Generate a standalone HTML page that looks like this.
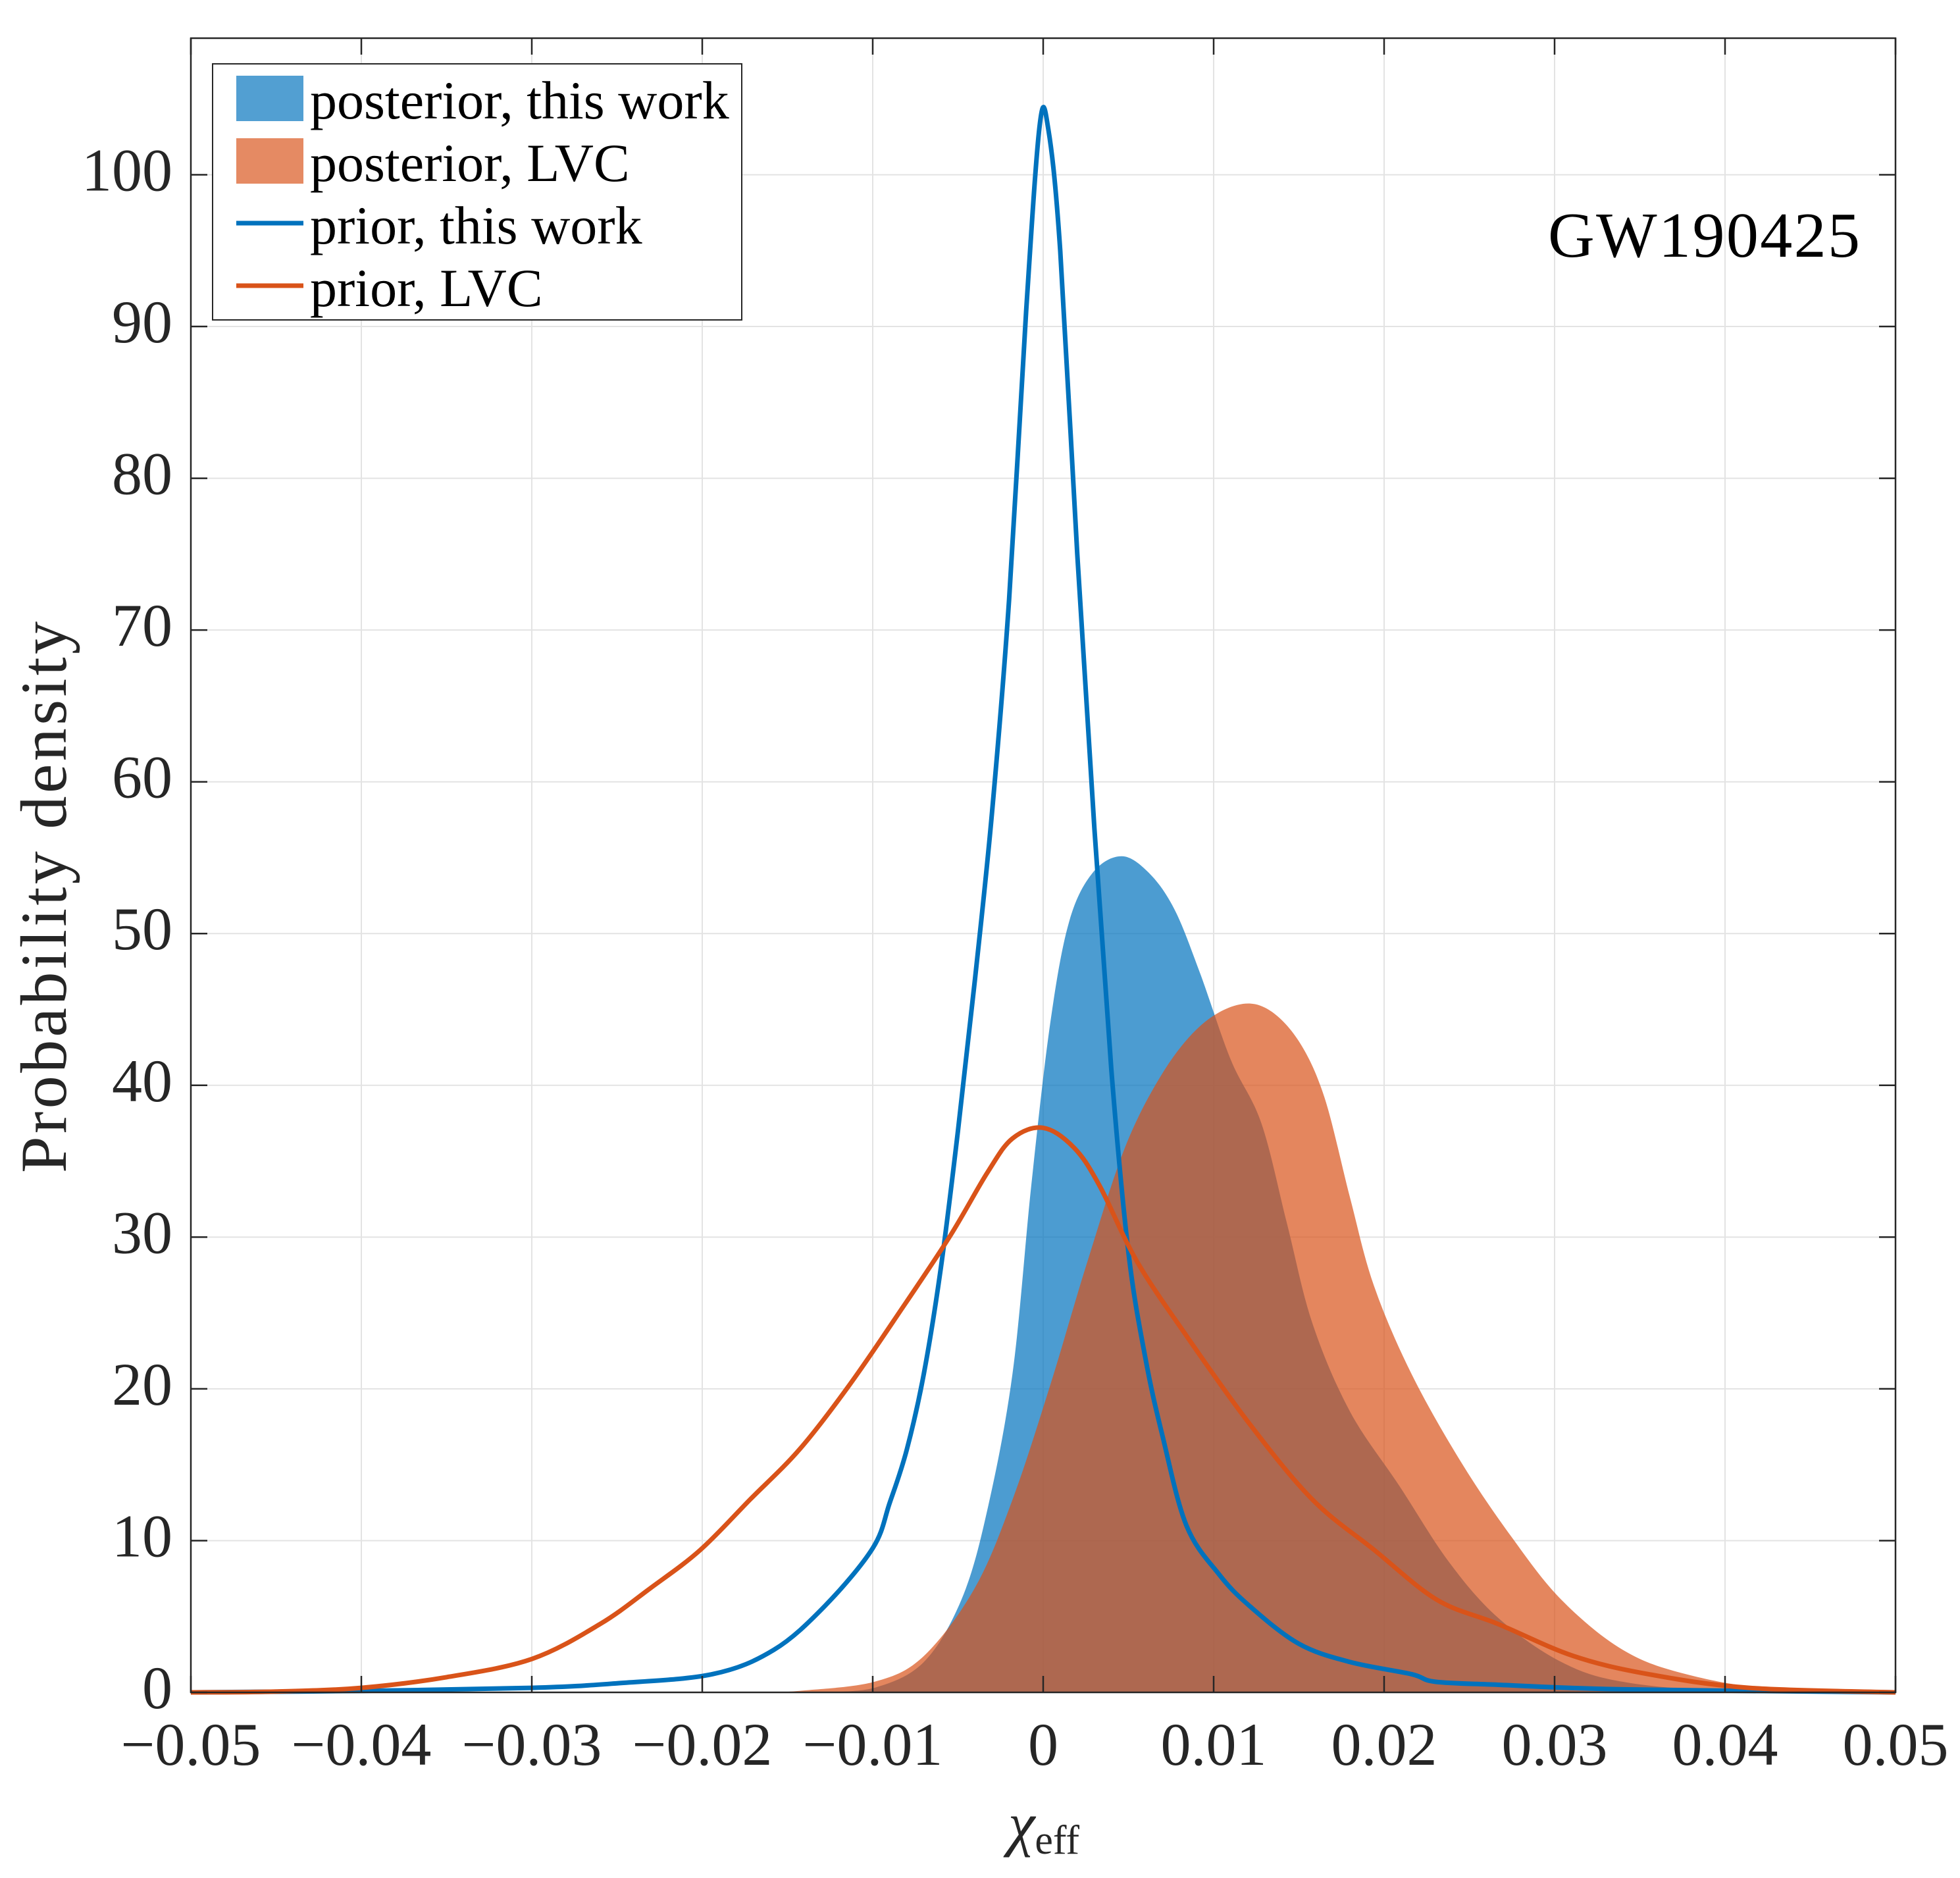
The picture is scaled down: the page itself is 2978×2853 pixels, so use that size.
<!DOCTYPE html>
<html><head><meta charset="utf-8"><style>
html,body{margin:0;padding:0;background:#fff}
svg{display:block}
text{font-family:"Liberation Serif","DejaVu Serif",serif;fill:#262626}
</style></head><body>
<svg id="chart" width="2978" height="2853" viewBox="0 0 2978 2853" xmlns="http://www.w3.org/2000/svg">
<rect width="2978" height="2853" fill="#fff"/>
<g id="grid"></g>
<g id="marks"></g>
<g id="axes"></g>
<text x="2826" y="390" font-size="98" text-anchor="end" textLength="474" style="fill:#000">GW190425</text>
<text transform="translate(100,1363) rotate(-90)" font-size="100" text-anchor="middle" textLength="838">Probability density</text>
<text x="1586" y="2802" text-anchor="middle"><tspan font-size="92" font-style="italic">χ</tspan><tspan font-size="62" dy="14">eff</tspan></text>
<g>
<rect x="323" y="97" width="804" height="389" fill="#fff" stroke="#262626" stroke-width="2"/>
<rect x="359" y="115" width="102" height="69" fill="#0072BD" fill-opacity="0.68"/>
<text x="471" y="180" font-size="82" style="fill:#000">posterior, this work</text>
<rect x="359" y="210" width="102" height="69" fill="#D95319" fill-opacity="0.68"/>
<text x="471" y="275" font-size="82" style="fill:#000">posterior, LVC</text>
<line x1="359" y1="339" x2="461" y2="339" stroke="#0072BD" stroke-width="7"/>
<text x="471" y="370" font-size="82" style="fill:#000">prior, this work</text>
<line x1="359" y1="434" x2="461" y2="434" stroke="#D95319" stroke-width="7"/>
<text x="471" y="465" font-size="82" style="fill:#000">prior, LVC</text>
</g>
</svg>
<script>
const xTicks=[-0.05,-0.04,-0.03,-0.02,-0.01,0,0.01,0.02,0.03,0.04,0.05];
const xTickLabels=["−0.05","−0.04","−0.03","−0.02","−0.01","0","0.01","0.02","0.03","0.04","0.05"];
const yTicks=[0,10,20,30,40,50,60,70,80,90,100];
const postThisX=[-0.013,-0.0099,-0.007,-0.0048,-0.0033,-0.0018,-0.0007,0.0004,0.0015,0.0029,0.0046,0.0062,0.0077,0.0092,0.011,0.0128,0.0143,0.0158,0.018,0.0209,0.0238,0.0267,0.0304,0.034,0.04,0.05];
const postThisY=[0,0.3,2,6.1,11.9,21,33.4,44,50.7,54,55.1,54,51.6,47.4,41.7,37.5,30.9,24.3,18.5,13.6,8.6,4.9,2,0.7,0.1,0];
const postLvcX=[-0.016,-0.0143,-0.0099,-0.007,-0.004,-0.0018,0.0004,0.0026,0.0048,0.007,0.0092,0.0114,0.0132,0.015,0.0165,0.018,0.0194,0.0216,0.0245,0.0275,0.0304,0.034,0.0377,0.0429,0.05];
const postLvcY=[0,0.1,0.7,2.4,6.9,12.7,20.2,28.4,35.9,40.8,43.9,45.3,45,42.9,39.2,32.6,26.8,21,15.2,10.2,6.1,2.8,1.2,0.2,0];
const priorThisX=[-0.05,-0.04,-0.03,-0.025,-0.0194,-0.0158,-0.0128,-0.01,-0.009,-0.008,-0.007,-0.006,-0.005,-0.004,-0.003,-0.002,-0.001,-0.0002,0.0003,0.001,0.002,0.003,0.004,0.005,0.006,0.007,0.0084,0.0103,0.0121,0.015,0.018,0.0216,0.023,0.0267,0.034,0.05];
const priorThisY=[0,0.1,0.3,0.6,1.2,2.8,5.7,9.5,12.5,16,21,28,37,47,58,72,91,103.3,103,95,75,57,41,29,22,16.9,11,7.8,5.7,3.2,2,1.2,0.7,0.5,0.2,0];
const priorLvcX=[-0.05,-0.045,-0.04,-0.035,-0.03,-0.026,-0.023,-0.0201,-0.0172,-0.0143,-0.0114,-0.0084,-0.0055,-0.0033,-0.0018,0,0.0018,0.0033,0.0055,0.0084,0.0121,0.0158,0.0194,0.0231,0.0267,0.0311,0.0355,0.0414,0.05];
const priorLvcY=[0,0.05,0.3,1,2.2,4.5,6.9,9.4,12.7,16,20.2,25.1,30,34.2,36.5,37.2,35.9,33.4,28.4,23.5,17.7,12.7,9.4,6.1,4.5,2.4,1.2,0.3,0];

const L=290,R=2880,T=58,B=2571,XMIN=-0.05,XMAX=0.05,YMIN=0,YMAX=109;
const sx=v=>L+(v-XMIN)/(XMAX-XMIN)*(R-L);
const sy=v=>B-(v-YMIN)/(YMAX-YMIN)*(B-T);
const NS='http://www.w3.org/2000/svg';
function mk(tag,parent,attrs){const e=document.createElementNS(NS,tag);for(const k in attrs)e.setAttribute(k,attrs[k]);parent.appendChild(e);return e;}
function smooth(xs,ys){
  const p=xs.map((x,i)=>[sx(x),sy(ys[i])]);
  let d='M'+p[0][0].toFixed(1)+','+p[0][1].toFixed(1);
  for(let i=0;i<p.length-1;i++){
    const p0=p[i-1]||p[i],p1=p[i],p2=p[i+1],p3=p[i+2]||p2;
    const c1=[p1[0]+(p2[0]-p0[0])/6,p1[1]+(p2[1]-p0[1])/6];
    const c2=[p2[0]-(p3[0]-p1[0])/6,p2[1]-(p3[1]-p1[1])/6];
    c1[1]=Math.min(c1[1],B);c2[1]=Math.min(c2[1],B);
    d+='C'+c1.map(v=>v.toFixed(1)).join(',')+' '+c2.map(v=>v.toFixed(1)).join(',')+' '+p2[0].toFixed(1)+','+p2[1].toFixed(1);
  }
  return d;
}
const grid=document.getElementById('grid'),marks=document.getElementById('marks'),axes=document.getElementById('axes');
xTicks.forEach((t,i)=>{
  const g=mk('line',grid,{x1:sx(t),x2:sx(t),y1:T,y2:B,stroke:'#e3e3e3','stroke-width':2});
  
  
});
yTicks.forEach(t=>{
  const g=mk('line',grid,{x1:L,x2:R,y1:sy(t),y2:sy(t),stroke:'#e3e3e3','stroke-width':2});
  
  
});
function area(xs,ys,color,name){
  const d=smooth(xs,ys)+'L'+sx(xs[xs.length-1])+','+B+'L'+sx(xs[0])+','+B+'Z';
  const e=mk('path',marks,{d:d,fill:color,'fill-opacity':0.7,stroke:'none'});
  
  
}
function line(xs,ys,color,name){
  const e=mk('path',marks,{d:smooth(xs,ys),fill:'none',stroke:color,'stroke-width':7,'stroke-linejoin':'round'});
  
  
}
area(postThisX,postThisY,'#0072BD','posterior-this-work-area');
area(postLvcX,postLvcY,'#D95319','posterior-lvc-area');
line(priorThisX,priorThisY,'#0072BD','prior-this-work-line');
line(priorLvcX,priorLvcY,'#D95319','prior-lvc-line');
const box=mk('rect',axes,{x:L,y:T,width:R-L,height:B-T,fill:'none',stroke:'#262626','stroke-width':2.5});


xTicks.forEach((t,i)=>{
  const a=mk('line',axes,{x1:sx(t),x2:sx(t),y1:B,y2:B-25,stroke:'#262626','stroke-width':2.5});
  
  
  const b=mk('line',axes,{x1:sx(t),x2:sx(t),y1:T,y2:T+25,stroke:'#262626','stroke-width':2.5});
  
  
  const tx=mk('text',axes,{x:sx(t),y:2681,'font-size':92,'text-anchor':'middle'});
  tx.textContent=xTickLabels[i];
  
  
});
yTicks.forEach(t=>{
  const a=mk('line',axes,{x1:L,x2:L+25,y1:sy(t),y2:sy(t),stroke:'#262626','stroke-width':2.5});
  
  
  const b=mk('line',axes,{x1:R,x2:R-25,y1:sy(t),y2:sy(t),stroke:'#262626','stroke-width':2.5});
  
  
  const tx=mk('text',axes,{x:262,y:sy(t)+24,'font-size':92,'text-anchor':'end'});
  tx.textContent=String(t);
  
  
});
</script>
</body></html>
